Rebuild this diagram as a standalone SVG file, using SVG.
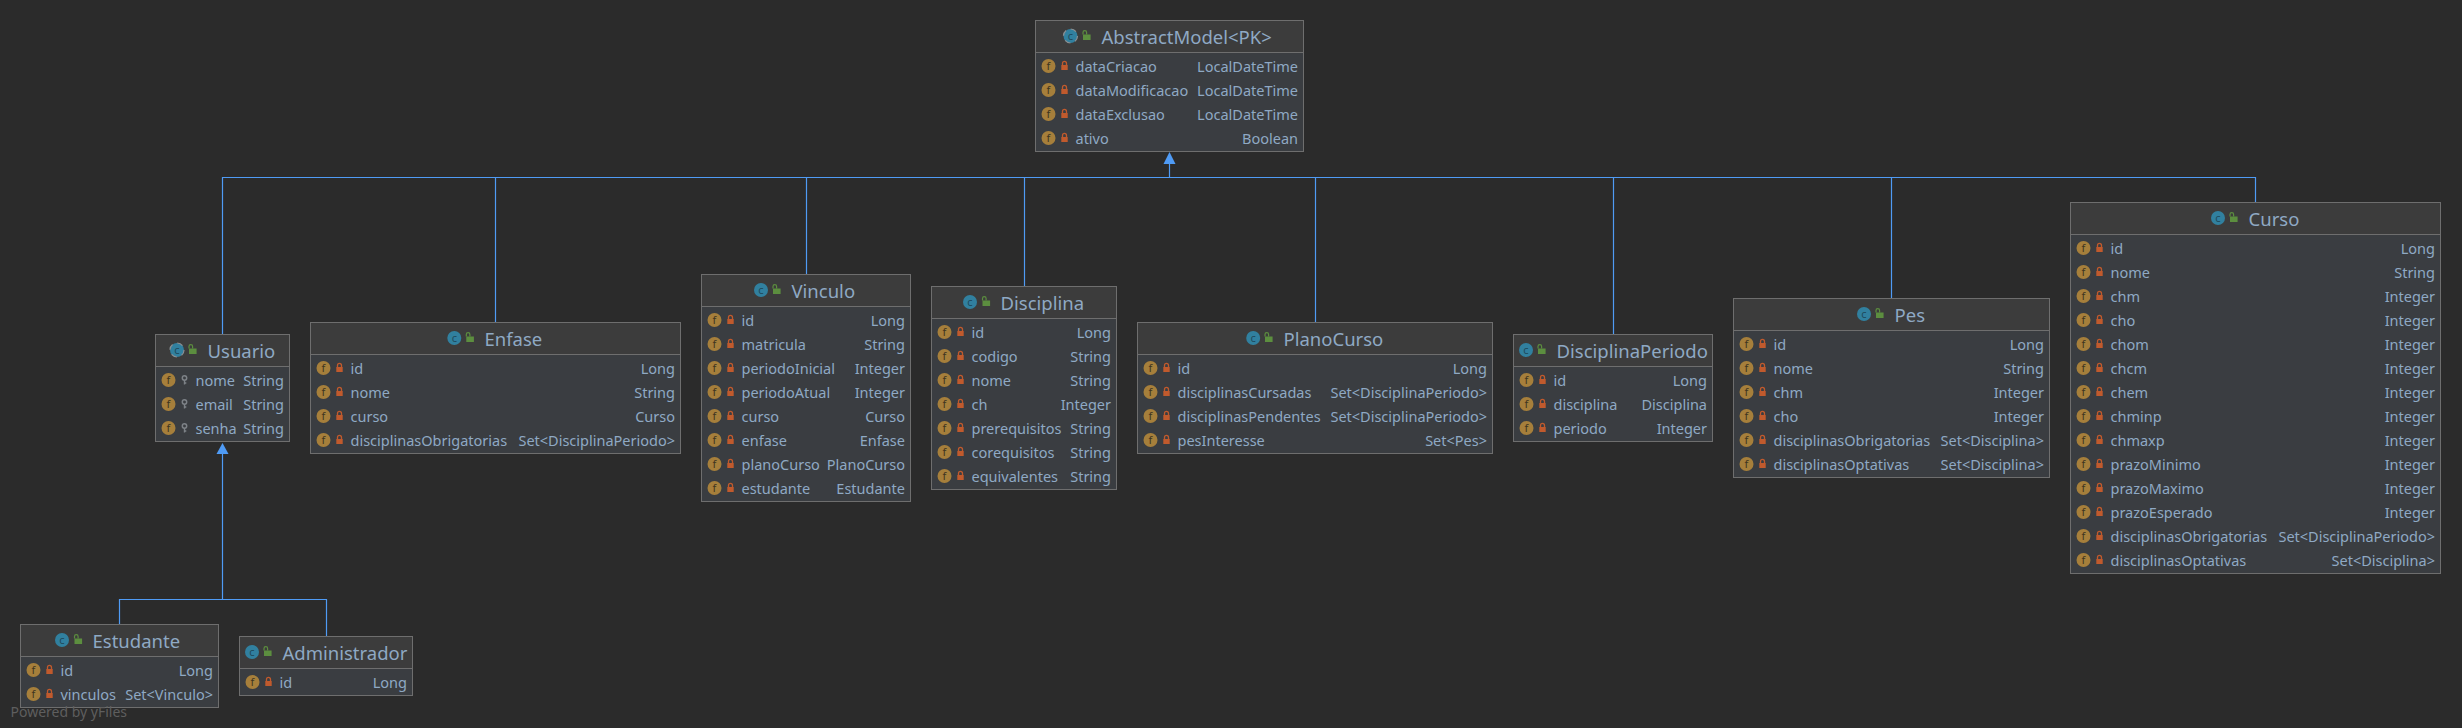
<svg xmlns="http://www.w3.org/2000/svg" width="2462" height="728" viewBox="0 0 2462 728">
<style>
text{font-family:"Noto Sans","Open Sans","Liberation Sans",sans-serif;fill:#8fa9c4}
.h{fill:#3c3c3c}
.b{fill:#3a3d41}
.o{fill:none;stroke:#6e6e6e;stroke-width:1}
.d{stroke:#6e6e6e;stroke-width:1}
.ti{font-size:18.5px}
.n{font-size:14.5px}
.t{font-size:14.5px;text-anchor:end}
.e{fill:none;stroke:#4f9bf5;stroke-width:1.2}
.a{fill:#4f9bf5}
.wm{font-size:14px;fill:#5e5e5e}
.ig{font-size:11px;fill:#3f3520;text-anchor:middle}
.ic{font-size:11px;fill:#1f4a5c;text-anchor:middle}
</style>
<defs>
<g id="f"><circle r="7" fill="#a67f3b"/><text class="ig" y="3.8">f</text></g>
<g id="l"><rect x="-3.2" y="-1" width="6.4" height="5" fill="#c05a2d"/><path d="M-2-1V-2.6A2 2 0 0 1 2-2.6V-1" fill="none" stroke="#c05a2d" stroke-width="1.3"/></g>
<g id="k"><circle cy="-2" r="2.2" fill="none" stroke="#7d8287" stroke-width="1.5"/><path d="M0 0V4.5M0 3H1.8" fill="none" stroke="#7d8287" stroke-width="1.4"/></g>
<g id="c"><circle r="7" fill="#31809f"/><text class="ic" y="3.8">c</text></g>
<g id="ca"><circle r="7" fill="#31809f"/><circle r="7" fill="none" stroke="#8a8f93" stroke-width="1.2" stroke-dasharray="6 5"/><text class="ic" y="3.8">c</text></g>
<g id="p"><rect x="-3" y="-1" width="7.6" height="5.5" fill="#5c8e3f"/><path d="M-3-1V-3A1.8 1.8 0 0 1 0.6-3V-1" fill="none" stroke="#5c8e3f" stroke-width="1.2"/></g>
</defs>
<rect width="2462" height="728" fill="#2b2b2b"/>
<g id="connectors">
<path class="e" d="M1169.5 163V177.5M222.5 334V177.5H2255.5V202M495.5 177.5V322M806.5 177.5V274M1024.5 177.5V286M1315.5 177.5V322M1613.5 177.5V334M1891.5 177.5V298"/>
<path class="a" d="M1169.5 152L1175.5 164H1163.5Z"/>
<path class="e" d="M222.5 453V599.5M119.5 624V599.5H326.5V636"/>
<path class="a" d="M222.5 443L228.5 454H216.5Z"/>
</g>
<g id="node-abstractmodel" transform="translate(1035.5,52.5)">
<rect class="h" y="-32" width="268" height="32"/><rect class="b" width="268" height="99"/><rect class="o" y="-32" width="268" height="131"/><path class="d" d="M0 0H268"/>
<use href="#ca" x="35" y="-16.5"/><use href="#p" x="50.5" y="-17"/><text class="ti" x="66" y="-9">AbstractModel&lt;PK&gt;</text>
<use href="#f" x="13" y="13.5"/><use href="#l" x="29" y="13.5"/><text class="n" x="40" y="19.5">dataCriacao</text><text class="t" x="262.5" y="19.5">LocalDateTime</text>
<use href="#f" x="13" y="37.5"/><use href="#l" x="29" y="37.5"/><text class="n" x="40" y="43.5">dataModificacao</text><text class="t" x="262.5" y="43.5">LocalDateTime</text>
<use href="#f" x="13" y="61.5"/><use href="#l" x="29" y="61.5"/><text class="n" x="40" y="67.5">dataExclusao</text><text class="t" x="262.5" y="67.5">LocalDateTime</text>
<use href="#f" x="13" y="85.5"/><use href="#l" x="29" y="85.5"/><text class="n" x="40" y="91.5">ativo</text><text class="t" x="262.5" y="91.5">Boolean</text>
</g>
<g id="node-usuario" transform="translate(155.5,366.5)">
<rect class="h" y="-32" width="134" height="32"/><rect class="b" width="134" height="75"/><rect class="o" y="-32" width="134" height="107"/><path class="d" d="M0 0H134"/>
<use href="#ca" x="21.5" y="-16.5"/><use href="#p" x="36.5" y="-17"/><text class="ti" x="52" y="-9">Usuario</text>
<use href="#f" x="13" y="13.5"/><use href="#k" x="29" y="13.5"/><text class="n" x="40" y="19.5">nome</text><text class="t" x="128.5" y="19.5">String</text>
<use href="#f" x="13" y="37.5"/><use href="#k" x="29" y="37.5"/><text class="n" x="40" y="43.5">email</text><text class="t" x="128.5" y="43.5">String</text>
<use href="#f" x="13" y="61.5"/><use href="#k" x="29" y="61.5"/><text class="n" x="40" y="67.5">senha</text><text class="t" x="128.5" y="67.5">String</text>
</g>
<g id="node-enfase" transform="translate(310.5,354.5)">
<rect class="h" y="-32" width="370" height="32"/><rect class="b" width="370" height="99"/><rect class="o" y="-32" width="370" height="131"/><path class="d" d="M0 0H370"/>
<use href="#c" x="143.8" y="-16.5"/><use href="#p" x="158.8" y="-17"/><text class="ti" x="174" y="-9">Enfase</text>
<use href="#f" x="13" y="13.5"/><use href="#l" x="29" y="13.5"/><text class="n" x="40" y="19.5">id</text><text class="t" x="364.5" y="19.5">Long</text>
<use href="#f" x="13" y="37.5"/><use href="#l" x="29" y="37.5"/><text class="n" x="40" y="43.5">nome</text><text class="t" x="364.5" y="43.5">String</text>
<use href="#f" x="13" y="61.5"/><use href="#l" x="29" y="61.5"/><text class="n" x="40" y="67.5">curso</text><text class="t" x="364.5" y="67.5">Curso</text>
<use href="#f" x="13" y="85.5"/><use href="#l" x="29" y="85.5"/><text class="n" x="40" y="91.5">disciplinasObrigatorias</text><text class="t" x="364.5" y="91.5">Set&lt;DisciplinaPeriodo&gt;</text>
</g>
<g id="node-estudante" transform="translate(20.5,656.5)">
<rect class="h" y="-32" width="198" height="32"/><rect class="b" width="198" height="51"/><rect class="o" y="-32" width="198" height="83"/><path class="d" d="M0 0H198"/>
<use href="#c" x="41.5" y="-16.5"/><use href="#p" x="57" y="-17"/><text class="ti" x="72" y="-9">Estudante</text>
<use href="#f" x="13" y="13.5"/><use href="#l" x="29" y="13.5"/><text class="n" x="40" y="19.5">id</text><text class="t" x="192.5" y="19.5">Long</text>
<use href="#f" x="13" y="37.5"/><use href="#l" x="29" y="37.5"/><text class="n" x="40" y="43.5">vinculos</text><text class="t" x="192.5" y="43.5">Set&lt;Vinculo&gt;</text>
</g>
<g id="node-administrador" transform="translate(239.5,668.5)">
<rect class="h" y="-32" width="173" height="32"/><rect class="b" width="173" height="27"/><rect class="o" y="-32" width="173" height="59"/><path class="d" d="M0 0H173"/>
<use href="#c" x="12.5" y="-16.5"/><use href="#p" x="27.5" y="-17"/><text class="ti" x="43" y="-9">Administrador</text>
<use href="#f" x="13" y="13.5"/><use href="#l" x="29" y="13.5"/><text class="n" x="40" y="19.5">id</text><text class="t" x="167.5" y="19.5">Long</text>
</g>
<g id="node-vinculo" transform="translate(701.5,306.5)">
<rect class="h" y="-32" width="209" height="32"/><rect class="b" width="209" height="195"/><rect class="o" y="-32" width="209" height="227"/><path class="d" d="M0 0H209"/>
<use href="#c" x="59.5" y="-16.5"/><use href="#p" x="74.5" y="-17"/><text class="ti" x="90" y="-9">Vinculo</text>
<use href="#f" x="13" y="13.5"/><use href="#l" x="29" y="13.5"/><text class="n" x="40" y="19.5">id</text><text class="t" x="203.5" y="19.5">Long</text>
<use href="#f" x="13" y="37.5"/><use href="#l" x="29" y="37.5"/><text class="n" x="40" y="43.5">matricula</text><text class="t" x="203.5" y="43.5">String</text>
<use href="#f" x="13" y="61.5"/><use href="#l" x="29" y="61.5"/><text class="n" x="40" y="67.5">periodoInicial</text><text class="t" x="203.5" y="67.5">Integer</text>
<use href="#f" x="13" y="85.5"/><use href="#l" x="29" y="85.5"/><text class="n" x="40" y="91.5">periodoAtual</text><text class="t" x="203.5" y="91.5">Integer</text>
<use href="#f" x="13" y="109.5"/><use href="#l" x="29" y="109.5"/><text class="n" x="40" y="115.5">curso</text><text class="t" x="203.5" y="115.5">Curso</text>
<use href="#f" x="13" y="133.5"/><use href="#l" x="29" y="133.5"/><text class="n" x="40" y="139.5">enfase</text><text class="t" x="203.5" y="139.5">Enfase</text>
<use href="#f" x="13" y="157.5"/><use href="#l" x="29" y="157.5"/><text class="n" x="40" y="163.5">planoCurso</text><text class="t" x="203.5" y="163.5">PlanoCurso</text>
<use href="#f" x="13" y="181.5"/><use href="#l" x="29" y="181.5"/><text class="n" x="40" y="187.5">estudante</text><text class="t" x="203.5" y="187.5">Estudante</text>
</g>
<g id="node-disciplina" transform="translate(931.5,318.5)">
<rect class="h" y="-32" width="185" height="32"/><rect class="b" width="185" height="171"/><rect class="o" y="-32" width="185" height="203"/><path class="d" d="M0 0H185"/>
<use href="#c" x="38.5" y="-16.5"/><use href="#p" x="54" y="-17"/><text class="ti" x="69" y="-9">Disciplina</text>
<use href="#f" x="13" y="13.5"/><use href="#l" x="29" y="13.5"/><text class="n" x="40" y="19.5">id</text><text class="t" x="179.5" y="19.5">Long</text>
<use href="#f" x="13" y="37.5"/><use href="#l" x="29" y="37.5"/><text class="n" x="40" y="43.5">codigo</text><text class="t" x="179.5" y="43.5">String</text>
<use href="#f" x="13" y="61.5"/><use href="#l" x="29" y="61.5"/><text class="n" x="40" y="67.5">nome</text><text class="t" x="179.5" y="67.5">String</text>
<use href="#f" x="13" y="85.5"/><use href="#l" x="29" y="85.5"/><text class="n" x="40" y="91.5">ch</text><text class="t" x="179.5" y="91.5">Integer</text>
<use href="#f" x="13" y="109.5"/><use href="#l" x="29" y="109.5"/><text class="n" x="40" y="115.5">prerequisitos</text><text class="t" x="179.5" y="115.5">String</text>
<use href="#f" x="13" y="133.5"/><use href="#l" x="29" y="133.5"/><text class="n" x="40" y="139.5">corequisitos</text><text class="t" x="179.5" y="139.5">String</text>
<use href="#f" x="13" y="157.5"/><use href="#l" x="29" y="157.5"/><text class="n" x="40" y="163.5">equivalentes</text><text class="t" x="179.5" y="163.5">String</text>
</g>
<g id="node-planocurso" transform="translate(1137.5,354.5)">
<rect class="h" y="-32" width="355" height="32"/><rect class="b" width="355" height="99"/><rect class="o" y="-32" width="355" height="131"/><path class="d" d="M0 0H355"/>
<use href="#c" x="115.7" y="-16.5"/><use href="#p" x="130.5" y="-17"/><text class="ti" x="146" y="-9">PlanoCurso</text>
<use href="#f" x="13" y="13.5"/><use href="#l" x="29" y="13.5"/><text class="n" x="40" y="19.5">id</text><text class="t" x="349.5" y="19.5">Long</text>
<use href="#f" x="13" y="37.5"/><use href="#l" x="29" y="37.5"/><text class="n" x="40" y="43.5">disciplinasCursadas</text><text class="t" x="349.5" y="43.5">Set&lt;DisciplinaPeriodo&gt;</text>
<use href="#f" x="13" y="61.5"/><use href="#l" x="29" y="61.5"/><text class="n" x="40" y="67.5">disciplinasPendentes</text><text class="t" x="349.5" y="67.5">Set&lt;DisciplinaPeriodo&gt;</text>
<use href="#f" x="13" y="85.5"/><use href="#l" x="29" y="85.5"/><text class="n" x="40" y="91.5">pesInteresse</text><text class="t" x="349.5" y="91.5">Set&lt;Pes&gt;</text>
</g>
<g id="node-disciplinaperiodo" transform="translate(1513.5,366.5)">
<rect class="h" y="-32" width="199" height="32"/><rect class="b" width="199" height="75"/><rect class="o" y="-32" width="199" height="107"/><path class="d" d="M0 0H199"/>
<use href="#c" x="12.5" y="-16.5"/><use href="#p" x="27.5" y="-17"/><text class="ti" x="43" y="-9">DisciplinaPeriodo</text>
<use href="#f" x="13" y="13.5"/><use href="#l" x="29" y="13.5"/><text class="n" x="40" y="19.5">id</text><text class="t" x="193.5" y="19.5">Long</text>
<use href="#f" x="13" y="37.5"/><use href="#l" x="29" y="37.5"/><text class="n" x="40" y="43.5">disciplina</text><text class="t" x="193.5" y="43.5">Disciplina</text>
<use href="#f" x="13" y="61.5"/><use href="#l" x="29" y="61.5"/><text class="n" x="40" y="67.5">periodo</text><text class="t" x="193.5" y="67.5">Integer</text>
</g>
<g id="node-pes" transform="translate(1733.5,330.5)">
<rect class="h" y="-32" width="316" height="32"/><rect class="b" width="316" height="147"/><rect class="o" y="-32" width="316" height="179"/><path class="d" d="M0 0H316"/>
<use href="#c" x="130.5" y="-16.5"/><use href="#p" x="145.5" y="-17"/><text class="ti" x="161" y="-9">Pes</text>
<use href="#f" x="13" y="13.5"/><use href="#l" x="29" y="13.5"/><text class="n" x="40" y="19.5">id</text><text class="t" x="310.5" y="19.5">Long</text>
<use href="#f" x="13" y="37.5"/><use href="#l" x="29" y="37.5"/><text class="n" x="40" y="43.5">nome</text><text class="t" x="310.5" y="43.5">String</text>
<use href="#f" x="13" y="61.5"/><use href="#l" x="29" y="61.5"/><text class="n" x="40" y="67.5">chm</text><text class="t" x="310.5" y="67.5">Integer</text>
<use href="#f" x="13" y="85.5"/><use href="#l" x="29" y="85.5"/><text class="n" x="40" y="91.5">cho</text><text class="t" x="310.5" y="91.5">Integer</text>
<use href="#f" x="13" y="109.5"/><use href="#l" x="29" y="109.5"/><text class="n" x="40" y="115.5">disciplinasObrigatorias</text><text class="t" x="310.5" y="115.5">Set&lt;Disciplina&gt;</text>
<use href="#f" x="13" y="133.5"/><use href="#l" x="29" y="133.5"/><text class="n" x="40" y="139.5">disciplinasOptativas</text><text class="t" x="310.5" y="139.5">Set&lt;Disciplina&gt;</text>
</g>
<g id="node-curso" transform="translate(2070.5,234.5)">
<rect class="h" y="-32" width="370" height="32"/><rect class="b" width="370" height="339"/><rect class="o" y="-32" width="370" height="371"/><path class="d" d="M0 0H370"/>
<use href="#c" x="147.5" y="-16.5"/><use href="#p" x="162.5" y="-17"/><text class="ti" x="178" y="-9">Curso</text>
<use href="#f" x="13" y="13.5"/><use href="#l" x="29" y="13.5"/><text class="n" x="40" y="19.5">id</text><text class="t" x="364.5" y="19.5">Long</text>
<use href="#f" x="13" y="37.5"/><use href="#l" x="29" y="37.5"/><text class="n" x="40" y="43.5">nome</text><text class="t" x="364.5" y="43.5">String</text>
<use href="#f" x="13" y="61.5"/><use href="#l" x="29" y="61.5"/><text class="n" x="40" y="67.5">chm</text><text class="t" x="364.5" y="67.5">Integer</text>
<use href="#f" x="13" y="85.5"/><use href="#l" x="29" y="85.5"/><text class="n" x="40" y="91.5">cho</text><text class="t" x="364.5" y="91.5">Integer</text>
<use href="#f" x="13" y="109.5"/><use href="#l" x="29" y="109.5"/><text class="n" x="40" y="115.5">chom</text><text class="t" x="364.5" y="115.5">Integer</text>
<use href="#f" x="13" y="133.5"/><use href="#l" x="29" y="133.5"/><text class="n" x="40" y="139.5">chcm</text><text class="t" x="364.5" y="139.5">Integer</text>
<use href="#f" x="13" y="157.5"/><use href="#l" x="29" y="157.5"/><text class="n" x="40" y="163.5">chem</text><text class="t" x="364.5" y="163.5">Integer</text>
<use href="#f" x="13" y="181.5"/><use href="#l" x="29" y="181.5"/><text class="n" x="40" y="187.5">chminp</text><text class="t" x="364.5" y="187.5">Integer</text>
<use href="#f" x="13" y="205.5"/><use href="#l" x="29" y="205.5"/><text class="n" x="40" y="211.5">chmaxp</text><text class="t" x="364.5" y="211.5">Integer</text>
<use href="#f" x="13" y="229.5"/><use href="#l" x="29" y="229.5"/><text class="n" x="40" y="235.5">prazoMinimo</text><text class="t" x="364.5" y="235.5">Integer</text>
<use href="#f" x="13" y="253.5"/><use href="#l" x="29" y="253.5"/><text class="n" x="40" y="259.5">prazoMaximo</text><text class="t" x="364.5" y="259.5">Integer</text>
<use href="#f" x="13" y="277.5"/><use href="#l" x="29" y="277.5"/><text class="n" x="40" y="283.5">prazoEsperado</text><text class="t" x="364.5" y="283.5">Integer</text>
<use href="#f" x="13" y="301.5"/><use href="#l" x="29" y="301.5"/><text class="n" x="40" y="307.5">disciplinasObrigatorias</text><text class="t" x="364.5" y="307.5">Set&lt;DisciplinaPeriodo&gt;</text>
<use href="#f" x="13" y="325.5"/><use href="#l" x="29" y="325.5"/><text class="n" x="40" y="331.5">disciplinasOptativas</text><text class="t" x="364.5" y="331.5">Set&lt;Disciplina&gt;</text>
</g>
<text class="wm" x="10.5" y="717">Powered by yFiles</text>
</svg>
